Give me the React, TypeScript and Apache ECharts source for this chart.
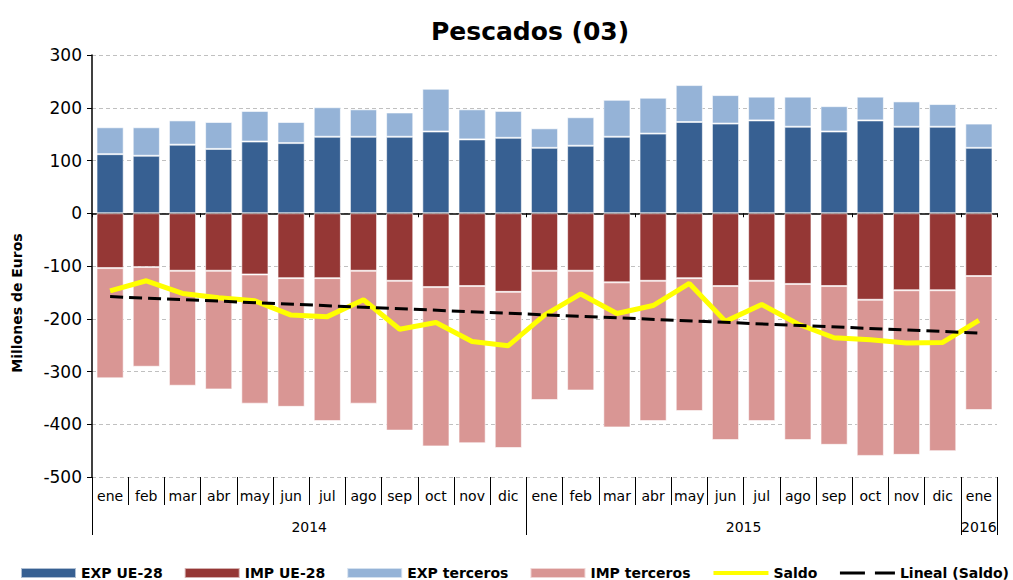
import React, { useEffect, useRef } from "react";
import * as echarts from "echarts";

const months = ["ene", "feb", "mar", "abr", "may", "jun", "jul", "ago", "sep", "oct", "nov", "dic", "ene", "feb", "mar", "abr", "may", "jun", "jul", "ago", "sep", "oct", "nov", "dic", "ene"];
const monthYears = [2014, 2014, 2014, 2014, 2014, 2014, 2014, 2014, 2014, 2014, 2014, 2014, 2015, 2015, 2015, 2015, 2015, 2015, 2015, 2015, 2015, 2015, 2015, 2015, 2016];
const yearLabels = ["2014", "2015", "2016"];
const yearCenters = [6, 18, 24.5];
const yearBounds = [0, 12, 24, 25];

const expUE = [112, 109, 130, 122, 136, 133, 145, 145, 145, 155, 140, 143, 124, 128, 145, 151, 173, 170, 176, 164, 155, 176, 164, 164, 124];
const expTerceros = [51, 54, 46, 51, 58, 40, 56, 52, 46, 81, 57, 51, 37, 54, 70, 68, 70, 54, 45, 57, 48, 45, 48, 43, 46];
const impUE = [-104, -102, -109, -109, -116, -123, -123, -109, -128, -140, -138, -149, -109, -109, -131, -128, -123, -138, -128, -134, -138, -164, -146, -146, -119];
const impTerceros = [-209, -189, -218, -225, -245, -244, -271, -252, -284, -302, -298, -296, -245, -227, -275, -266, -252, -292, -266, -296, -301, -296, -312, -305, -254];
const saldo = [-147, -128, -152, -160, -166, -193, -196, -164, -220, -207, -243, -251, -193, -153, -190, -175, -133, -205, -173, -210, -236, -240, -246, -245, -203];
const linealEnds = [-158, -227];

const FONT = "DejaVu Sans, Verdana, sans-serif";

export default function App() {
  const ref = useRef<HTMLDivElement>(null);
  useEffect(() => {
    document.body.style.margin = "0";
    if (!ref.current) return;
    const chart = echarts.init(ref.current, null, { renderer: "svg" });
    const cats = months.map((m, i) => `${m}|${monthYears[i]}|${i}`);
    const barBase = {
      type: "bar",
      stack: "total",
      barCategoryGap: "25%",
      xAxisIndex: 0,
      yAxisIndex: 0,
    };
    chart.setOption({
      animation: false,
      backgroundColor: "#ffffff",
      title: {
        text: "Pescados (03)",
        left: 426,
        top: 14,
        textStyle: { fontFamily: FONT, fontSize: 25, fontWeight: "bold", color: "#000" },
      },
      grid: { left: 92, right: 16, top: 55, bottom: 103, containLabel: false },
      legend: {
        top: 566,
        left: 20,
        padding: 0,
        itemWidth: 55,
        itemHeight: 10,
        itemGap: 21,
        textStyle: { fontFamily: FONT, fontSize: 14, lineHeight: 14, fontWeight: "bold", color: "#000", padding: [0, 0, 0, 0] },
        data: [
          { name: "EXP UE-28", icon: "rect" },
          { name: "IMP UE-28", icon: "rect" },
          { name: "EXP terceros", icon: "rect" },
          { name: "IMP terceros", icon: "rect" },
          { name: "Saldo", itemStyle: { opacity: 0 }, lineStyle: { color: "#FFFF00", width: 4 } },
          { name: "Lineal (Saldo)", itemStyle: { opacity: 0 }, lineStyle: { color: "#000", width: 3, type: [25, 10] } },
        ],
      },
      xAxis: [
        {
          type: "category",
          data: cats,
          boundaryGap: true,
          axisLine: { show: true, onZero: true, lineStyle: { color: "#000", width: 1.5 } },
          axisTick: { show: true, length: 4, lineStyle: { color: "#000" } },
          axisLabel: { show: false },
          splitLine: { show: false },
        },
        {
          type: "category",
          data: cats,
          position: "bottom",
          boundaryGap: true,
          axisLine: { show: false, onZero: false },
          axisTick: { show: true, length: 28, lineStyle: { color: "#000" } },
          axisLabel: {
            show: true,
            interval: 0,
            margin: 12,
            fontFamily: FONT,
            fontSize: 14,
            color: "#000",
            formatter: (v: string) => v.split("|")[0],
          },
          splitLine: { show: false },
        },
        {
          type: "value",
          min: 0,
          max: 25,
          position: "bottom",
          axisLine: { show: false, onZero: false },
          axisTick: { show: true, length: 58, customValues: yearBounds, lineStyle: { color: "#000" } },
          axisLabel: {
            show: true,
            customValues: yearCenters,
            margin: 43,
            fontFamily: FONT,
            fontSize: 14,
            color: "#000",
            formatter: (v: number) => {
              const idx = yearCenters.indexOf(v);
              return idx >= 0 ? yearLabels[idx] : "";
            },
          },
          splitLine: { show: false },
        },
      ],
      yAxis: {
        type: "value",
        min: -500,
        max: 300,
        interval: 100,
        axisLine: { show: true, lineStyle: { color: "#000", width: 1.5 } },
        axisTick: { show: true, length: 5, lineStyle: { color: "#000" } },
        axisLabel: { fontFamily: FONT, fontSize: 17, color: "#000", margin: 10 },
        splitLine: { show: true, lineStyle: { color: "#c0c0c0", type: [4, 3], width: 1 } },
      },
      graphic: [
        {
          type: "text",
          x: 17,
          y: 303,
          rotation: Math.PI / 2,
          style: {
            text: "Millones de Euros",
            fontFamily: FONT,
            fontSize: 14,
            fontWeight: "bold",
            fill: "#000",
            align: "center",
            verticalAlign: "middle",
          },
        },
      ],
      series: [
        {
          ...barBase,
          name: "EXP UE-28",
          data: expUE,
          itemStyle: { color: "#376092", borderColor: "rgba(255,255,255,0.6)", borderWidth: 1 },
        },
        {
          ...barBase,
          name: "IMP UE-28",
          data: impUE,
          itemStyle: { color: "#953735", borderColor: "rgba(255,255,255,0.6)", borderWidth: 1 },
        },
        {
          ...barBase,
          name: "EXP terceros",
          data: expTerceros,
          itemStyle: { color: "#95B3D7", borderColor: "rgba(255,255,255,0.6)", borderWidth: 1 },
        },
        {
          ...barBase,
          name: "IMP terceros",
          data: impTerceros,
          itemStyle: { color: "#D99694", borderColor: "rgba(255,255,255,0.6)", borderWidth: 1 },
        },
        {
          type: "line",
          name: "Saldo",
          data: saldo,
          symbol: "none",
          z: 5,
          itemStyle: { color: "#FFFF00" },
          lineStyle: { color: "#FFFF00", width: 5 },
        },
        {
          type: "line",
          name: "Lineal (Saldo)",
          data: [
            [0, linealEnds[0]],
            [months.length - 1, linealEnds[1]],
          ],
          symbol: "none",
          z: 6,
          itemStyle: { color: "#000" },
          lineStyle: { color: "#000", width: 3, type: [13, 6] },
        },
      ],
    });
    return () => chart.dispose();
  }, []);
  return <div ref={ref} style={{ width: 1013, height: 580 }} />;
}
